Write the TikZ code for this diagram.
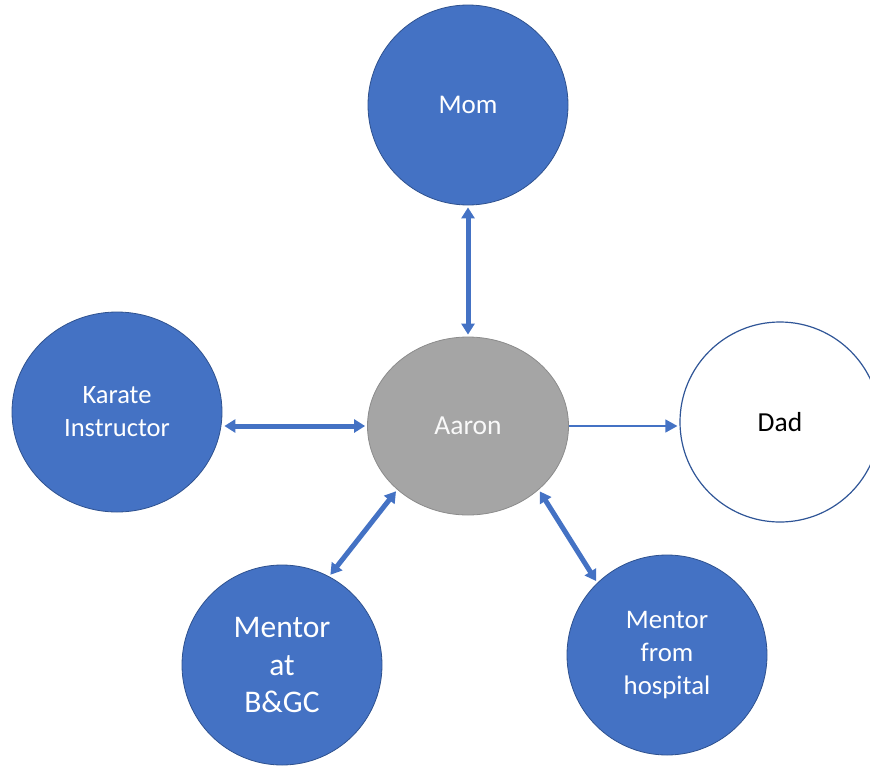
\documentclass[tikz,border=0pt]{standalone}
\usepackage{fontspec}
\setmainfont{Carlito}
\usetikzlibrary{shapes.geometric,arrows.meta}
\definecolor{nodeblue}{HTML}{4472C4}
\definecolor{edgeblue}{HTML}{2F528F}
\definecolor{dadline}{HTML}{2F5597}
\definecolor{aarongray}{HTML}{A5A5A5}
\definecolor{aaronedge}{HTML}{8C8C8C}

\begin{document}
\begin{tikzpicture}[x=1pt,y=-1pt,
    person/.style={ellipse, fill=nodeblue, draw=edgeblue, line width=0.8pt, text=white,
      inner sep=0pt, minimum width=200pt, minimum height=200pt, align=center,
      font=\fontsize{26.5}{33}\selectfont},
    biarrow/.style={draw=nodeblue, line width=5pt,
      {Triangle[length=11pt,width=13pt]}-{Triangle[length=11pt,width=13pt]},
      shorten <=2pt, shorten >=2pt},
    onearrow/.style={draw=nodeblue, line width=1.3pt, -{Triangle[length=12pt,width=13pt]},
      shorten >=2pt}]
      \useasboundingbox (0,0) rectangle (870,769);
      \node[person, font=\fontsize{27}{33}\selectfont] (mom) at (468,105) {Mom};
      \node[person, fill=aarongray, draw=aaronedge, text=white!95!gray, minimum width=201pt,
        minimum height=178pt, font=\fontsize{27.5}{33}\selectfont] (aaron) at (468,426) {Aaron};
      \node[person, minimum width=210pt] (karate) at (117,412) {Karate\\Instructor};
      \node[person, fill=white, draw=dadline, line width=1.2pt, text=black,
        font=\fontsize{27.5}{33}\selectfont] (dad) at (780,422) {Dad};
      \node[person, font=\fontsize{31.5}{37.5}\selectfont] (bgc) at (282,665) {Mentor\\at\\B\&GC};
      \node[person, font=\fontsize{26.8}{33}\selectfont] (hosp) at (667,655) {Mentor\\from\\hospital};
      \draw[biarrow] (mom) -- (aaron);
      \draw[biarrow] (aaron.west) -- (karate.east |- aaron.west);
      \draw[onearrow] (aaron.east) -- (dad.west |- aaron.east);
      \draw[biarrow] (aaron.-138) -- (bgc.62);
      \draw[biarrow] (aaron.-42) -- (hosp.134);
    \end{tikzpicture}
\end{document}
